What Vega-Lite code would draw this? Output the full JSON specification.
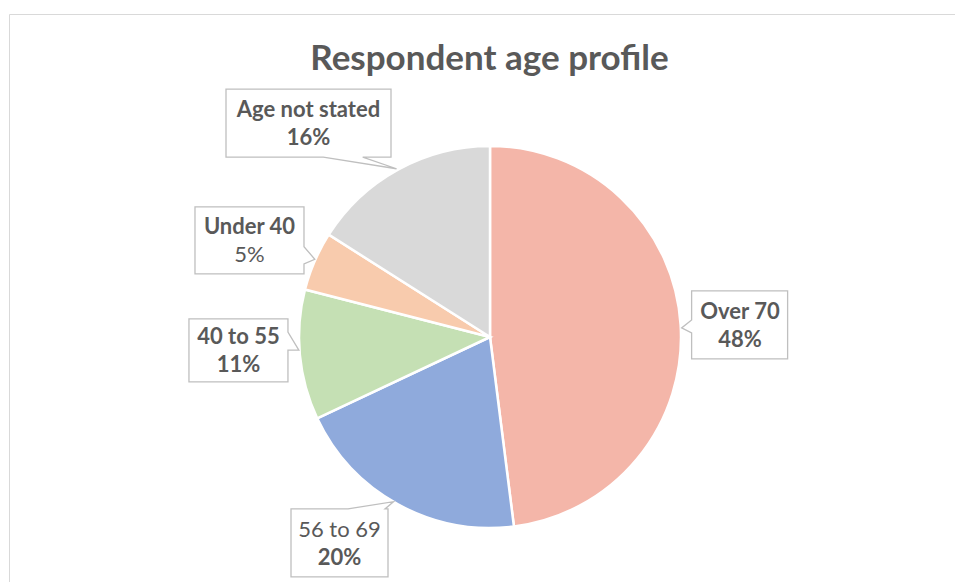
{
  "$schema": "https://vega.github.io/schema/vega-lite/v6.json",
  "width": 946,
  "height": 568,
  "autosize": {"type": "none"},
  "padding": {"left": 9, "top": 14, "right": 0, "bottom": 0},
  "background": "white",
  "config": {"view": {"stroke": "#D9D9D9", "strokeWidth": 1}},
  "title": {
    "text": "Respondent age profile",
    "font": "Lato",
    "fontSize": 35,
    "fontWeight": "bold",
    "color": "#595959",
    "anchor": "middle",
    "frame": "group",
    "baseline": "alphabetic",
    "offset": -91,
    "dx": 7.5
  },
  "data": {
    "values": [
      {"category": "Over 70", "value": 48},
      {"category": "56 to 69", "value": 20},
      {"category": "40 to 55", "value": 11},
      {"category": "Under 40", "value": 5},
      {"category": "Age not stated", "value": 16}
    ]
  },
  "transform": [
    {"calculate": "indexof(['Over 70','56 to 69','40 to 55','Under 40','Age not stated'], datum.category)", "as": "idx"},
    {"window": [{"op": "sum", "field": "value", "as": "cum"}], "sort": [{"field": "idx", "order": "ascending"}], "frame": [null, 0]},
    {"joinaggregate": [{"op": "sum", "field": "value", "as": "total"}]},
    {"calculate": "2 * PI * (datum.cum - datum.value / 2) / datum.total", "as": "mid"},
    {"calculate": "192 * sin(datum.mid)", "as": "ax"},
    {"calculate": "192 * cos(datum.mid)", "as": "ay"},
    {"calculate": "datum.value + '%'", "as": "pct"}
  ],
  "layer": [
    {
      "mark": {"type": "arc", "outerRadius": 191, "stroke": "white", "strokeWidth": 2.5},
      "encoding": {
        "theta": {"field": "value", "type": "quantitative", "stack": true},
        "order": {"field": "idx", "type": "quantitative"},
        "color": {
          "field": "category",
          "type": "nominal",
          "scale": {
            "domain": ["Over 70", "56 to 69", "40 to 55", "Under 40", "Age not stated"],
            "range": ["#F4B6A9", "#8FAADC", "#C5E0B4", "#F8CBAD", "#D9D9D9"]
          },
          "legend": null
        },
        "x": {"datum": 0, "type": "quantitative", "scale": {"domain": [-481, 465], "nice": false, "zero": false}, "axis": null},
        "y": {"datum": 0, "type": "quantitative", "scale": {"domain": [-245, 323], "nice": false, "zero": false}, "axis": null}
      }
    },
    {
      "mark": {"type": "point", "filled": true, "fill": "white", "stroke": "#BFBFBF", "strokeWidth": 1.3, "size": 4, "opacity": 1},
      "encoding": {
        "x": {"field": "ax", "type": "quantitative", "scale": {"domain": [-481, 465], "nice": false, "zero": false}, "axis": null},
        "y": {"field": "ay", "type": "quantitative", "scale": {"domain": [-245, 323], "nice": false, "zero": false}, "axis": null},
        "shape": {
          "field": "category",
          "type": "nominal",
          "scale": {
            "domain": ["Over 70", "56 to 69", "40 to 55", "Under 40", "Age not stated"],
            "range": [
              "M10,-34 L106,-34 L106,34 L10,34 L10,8 L0,3 L10,-5 Z",
              "M-106.5,3.7 L-49.5,3.7 L-4,-3.6 L-12.5,3.7 L-9.5,3.7 L-9.5,71.7 L-106.5,71.7 Z",
              "M-109.9,-36.1 L-10.9,-36.1 L-10.9,-23 L0,-5 L-10.9,-5 L-10.9,26.9 L-109.9,26.9 Z",
              "M-118.8,-53.8 L-9.8,-53.8 L-9.8,-14.1 L1,-1.5 L-9.8,3.2 L-9.8,13.2 L-118.8,13.2 Z",
              "M-171.5,-79.7 L-6.5,-79.7 L-6.5,-11.7 L-34.8,-11.7 L-1,0 L-74.2,-11.7 L-171.5,-11.7 Z"
            ]
          },
          "legend": null
        }
      }
    },
    {
      "transform": [{"filter": "datum.category !== '56 to 69'"}],
      "mark": {
        "type": "text", "font": "Lato", "fontSize": 22, "fontWeight": "bold", "color": "#595959",
        "align": "center", "baseline": "alphabetic",
        "dx": {"expr": "datum.category === 'Over 70' ? 58.4 : datum.category === '56 to 69' ? -58 : datum.category === '40 to 55' ? -60.4 : datum.category === 'Under 40' ? -64.3 : -89"},
        "dy": {"expr": "(datum.category === 'Over 70' ? 0.1 : datum.category === '56 to 69' ? 37.7 : datum.category === '40 to 55' ? -4.6 : datum.category === 'Under 40' ? -20.3 : -45.7) - 6"}
      },
      "encoding": {
        "x": {"field": "ax", "type": "quantitative", "scale": {"domain": [-481, 465], "nice": false, "zero": false}, "axis": null},
        "y": {"field": "ay", "type": "quantitative", "scale": {"domain": [-245, 323], "nice": false, "zero": false}, "axis": null},
        "text": {"field": "category", "type": "nominal"}
      }
    },
    {
      "transform": [{"filter": "datum.category === '56 to 69'"}],
      "mark": {
        "type": "text", "font": "Lato", "fontSize": 22, "fontWeight": "normal", "color": "#595959",
        "align": "center", "baseline": "alphabetic",
        "dx": {"expr": "datum.category === 'Over 70' ? 58.4 : datum.category === '56 to 69' ? -58 : datum.category === '40 to 55' ? -60.4 : datum.category === 'Under 40' ? -64.3 : -89"},
        "dy": {"expr": "(datum.category === 'Over 70' ? 0.1 : datum.category === '56 to 69' ? 37.7 : datum.category === '40 to 55' ? -4.6 : datum.category === 'Under 40' ? -20.3 : -45.7) - 6"}
      },
      "encoding": {
        "x": {"field": "ax", "type": "quantitative", "scale": {"domain": [-481, 465], "nice": false, "zero": false}, "axis": null},
        "y": {"field": "ay", "type": "quantitative", "scale": {"domain": [-245, 323], "nice": false, "zero": false}, "axis": null},
        "text": {"field": "category", "type": "nominal"}
      }
    },
    {
      "transform": [{"filter": "datum.category !== 'Under 40'"}],
      "mark": {
        "type": "text", "font": "Lato", "fontSize": 22, "fontWeight": "bold", "color": "#595959",
        "align": "center", "baseline": "alphabetic",
        "dx": {"expr": "datum.category === 'Over 70' ? 58.4 : datum.category === '56 to 69' ? -58 : datum.category === '40 to 55' ? -60.4 : datum.category === 'Under 40' ? -64.3 : -89"},
        "dy": {"expr": "(datum.category === 'Over 70' ? 0.1 : datum.category === '56 to 69' ? 37.7 : datum.category === '40 to 55' ? -4.6 : datum.category === 'Under 40' ? -20.3 : -45.7) + 22"}
      },
      "encoding": {
        "x": {"field": "ax", "type": "quantitative", "scale": {"domain": [-481, 465], "nice": false, "zero": false}, "axis": null},
        "y": {"field": "ay", "type": "quantitative", "scale": {"domain": [-245, 323], "nice": false, "zero": false}, "axis": null},
        "text": {"field": "pct", "type": "nominal"}
      }
    },
    {
      "transform": [{"filter": "datum.category === 'Under 40'"}],
      "mark": {
        "type": "text", "font": "Lato", "fontSize": 22, "fontWeight": "normal", "color": "#595959",
        "align": "center", "baseline": "alphabetic",
        "dx": {"expr": "datum.category === 'Over 70' ? 58.4 : datum.category === '56 to 69' ? -58 : datum.category === '40 to 55' ? -60.4 : datum.category === 'Under 40' ? -64.3 : -89"},
        "dy": {"expr": "(datum.category === 'Over 70' ? 0.1 : datum.category === '56 to 69' ? 37.7 : datum.category === '40 to 55' ? -4.6 : datum.category === 'Under 40' ? -20.3 : -45.7) + 22"}
      },
      "encoding": {
        "x": {"field": "ax", "type": "quantitative", "scale": {"domain": [-481, 465], "nice": false, "zero": false}, "axis": null},
        "y": {"field": "ay", "type": "quantitative", "scale": {"domain": [-245, 323], "nice": false, "zero": false}, "axis": null},
        "text": {"field": "pct", "type": "nominal"}
      }
    }
  ]
}
